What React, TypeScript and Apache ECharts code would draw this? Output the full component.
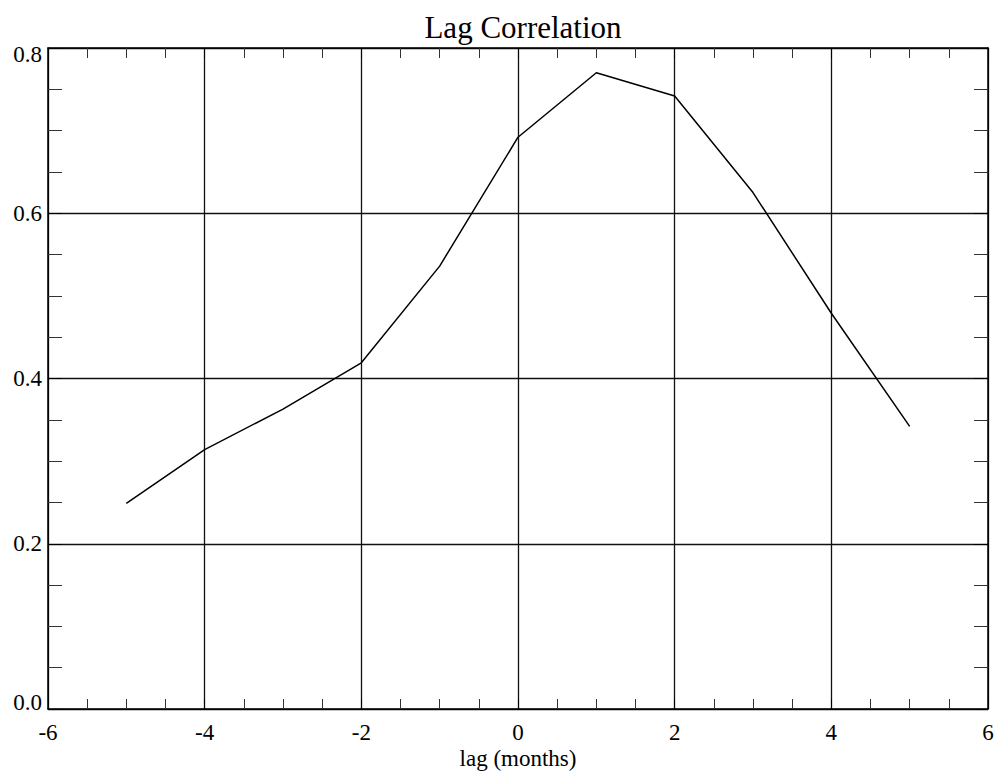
import React, { useEffect, useRef } from "react";
import * as echarts from "echarts";

const lags = [-5, -4, -3, -2, -1, 0, 1, 2, 3, 4, 5];
const corr = [0.249, 0.314, 0.363, 0.419, 0.536, 0.692, 0.770, 0.742, 0.625, 0.479, 0.342];
const titleText = "Lag Correlation";
const xName = "lag (months)";

const FONT = "Liberation Serif";

export default function App() {
  const ref = useRef<HTMLDivElement>(null);
  useEffect(() => {
    document.body.style.margin = "0";
    const chart = echarts.init(ref.current!, null, { renderer: "svg" });
    const axisLine = { show: true, onZero: false, lineStyle: { color: "#000", width: 1.5 } };
    const splitLine = { show: true, lineStyle: { color: "#111", width: 1.3 } };
    const labelStyle = { color: "#000", fontSize: 23, fontFamily: FONT };
    chart.setOption({
      animation: false,
      backgroundColor: "#fff",
      title: {
        text: titleText,
        left: 518,
        textAlign: "center",
        top: 7,
        textStyle: { color: "#000", fontSize: 31, fontWeight: "normal", fontFamily: FONT },
      },
      grid: { left: 48, right: 9, top: 48, bottom: 62, containLabel: false, outerBoundsMode: "none" },
      xAxis: [
        {
          type: "value",
          min: -6,
          max: 6,
          interval: 2,
          position: "bottom",
          axisLine,
          axisTick: { show: true, inside: true, length: 10, lineStyle: { color: "#000", width: 1 } },
          minorTick: { show: true, splitNumber: 4, length: 10, lineStyle: { color: "#333", width: 1 } },
          splitLine,
          axisLabel: { ...labelStyle, lineHeight: 16, margin: 15, formatter: (v: number) => String(v) },
          name: xName,
          nameLocation: "middle",
          nameGap: 41,
          nameMoveOverlap: false,
          nameTextStyle: { ...labelStyle, lineHeight: 16 },
        },
        {
          type: "value",
          min: -6,
          max: 6,
          interval: 2,
          position: "top",
          axisLine,
          axisTick: { show: true, inside: true, length: 10, lineStyle: { color: "#000", width: 1 } },
          minorTick: { show: true, splitNumber: 4, length: 10, lineStyle: { color: "#333", width: 1 } },
          splitLine: { show: false },
          axisLabel: { show: false },
        },
      ],
      yAxis: [
        {
          type: "value",
          min: 0,
          max: 0.8,
          interval: 0.2,
          position: "left",
          axisLine,
          axisTick: { show: true, inside: true, length: 14, lineStyle: { color: "#000", width: 1 } },
          minorTick: { show: true, splitNumber: 4, length: 14, lineStyle: { color: "#333", width: 1 } },
          splitLine,
          axisLabel: {
            ...labelStyle,
            margin: 6,
            formatter: (v: number) => {
              if (Math.abs(v - 0.8) < 1e-9) return "{mx|0.8}";
              if (Math.abs(v) < 1e-9) return "{mn|0.0}";
              return v.toFixed(1);
            },
            rich: {
              mx: { ...labelStyle, padding: [13, 0, 0, 0] },
              mn: { ...labelStyle, padding: [0, 0, 13, 0] },
            },
          },
        },
        {
          type: "value",
          min: 0,
          max: 0.8,
          interval: 0.2,
          position: "right",
          axisLine,
          axisTick: { show: true, inside: true, length: 14, lineStyle: { color: "#000", width: 1 } },
          minorTick: { show: true, splitNumber: 4, length: 14, lineStyle: { color: "#333", width: 1 } },
          splitLine: { show: false },
          axisLabel: { show: false },
        },
      ],
      series: [
        {
          type: "line",
          xAxisIndex: 0,
          yAxisIndex: 0,
          data: lags.map((x, i) => [x, corr[i]]),
          showSymbol: false,
          symbol: "none",
          lineStyle: { color: "#000", width: 1.5 },
        },
      ],
    });
    return () => chart.dispose();
  }, []);
  return <div ref={ref} style={{ width: 997, height: 771 }} />;
}
